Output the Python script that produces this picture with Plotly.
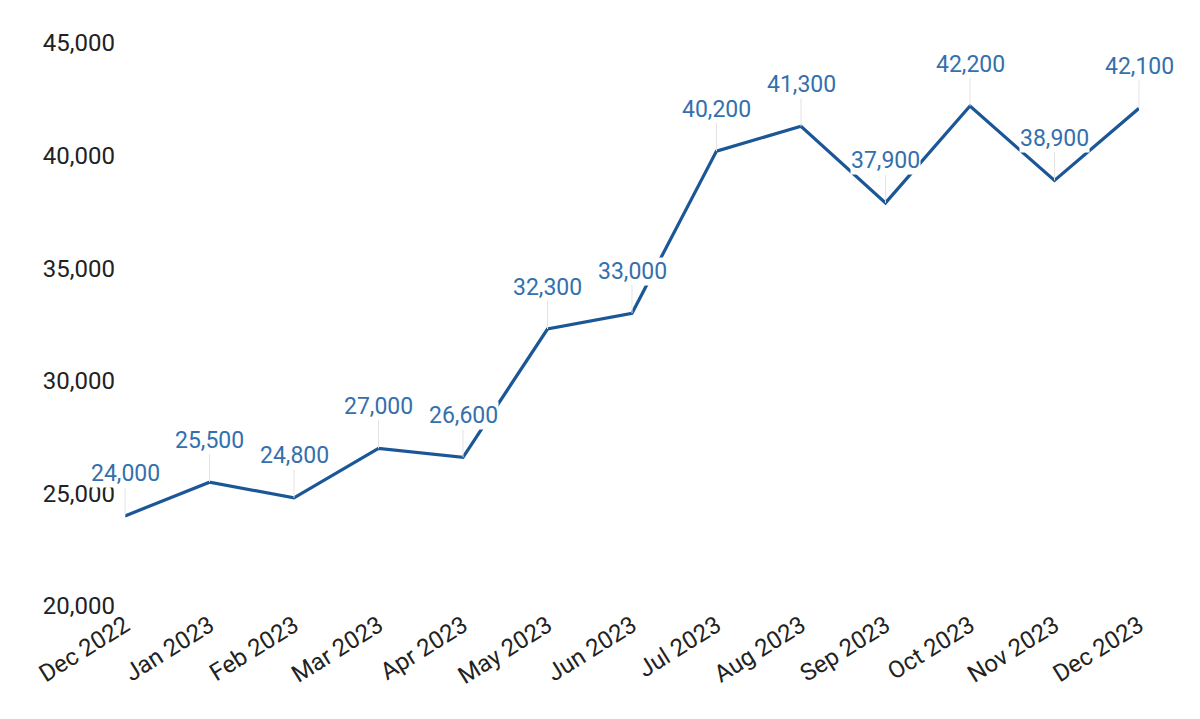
import plotly.graph_objects as go

months = ["Dec 2022", "Jan 2023", "Feb 2023", "Mar 2023", "Apr 2023", "May 2023", "Jun 2023",
          "Jul 2023", "Aug 2023", "Sep 2023", "Oct 2023", "Nov 2023", "Dec 2023"]
values = [24000, 25500, 24800, 27000, 26600, 32300, 33000, 40200, 41300, 37900, 42200, 38900, 42100]
y_ticks = [20000, 25000, 30000, 35000, 40000, 45000]

fig = go.Figure()
fig.add_trace(go.Scatter(x=months, y=values, mode="lines",
                         line=dict(color="#1b5797", width=3.2), hoverinfo="x+y"))

for m, v in zip(months, values):
    fig.add_annotation(x=m, y=v, text=f"{v:,}", showarrow=True, arrowhead=0,
                       arrowwidth=1, arrowcolor="#e3e3e3", ax=0, ay=-42,
                       bgcolor="white", borderpad=0,
                       font=dict(family="Roboto", size=23, color="#3470ad"))

# page body has an 8px margin, so the figure is shrunk to fit the window
fig.update_layout(
    width=1184, height=703,
    paper_bgcolor="white", plot_bgcolor="white",
    margin=dict(l=117, r=53, t=35, b=105),
    showlegend=False,
    font=dict(family="Roboto", size=24, color="#222222"),
    xaxis=dict(range=[0, 12], showgrid=False, zeroline=False, showline=False,
               tickangle=-32, ticks="", automargin=False),
    yaxis=dict(range=[20000, 45000], tickvals=y_ticks, tickformat=",", showgrid=False,
               zeroline=False, showline=False, ticks="", ticklabelstandoff=9,
               automargin=False),
)

fig.write_html("out.html")
